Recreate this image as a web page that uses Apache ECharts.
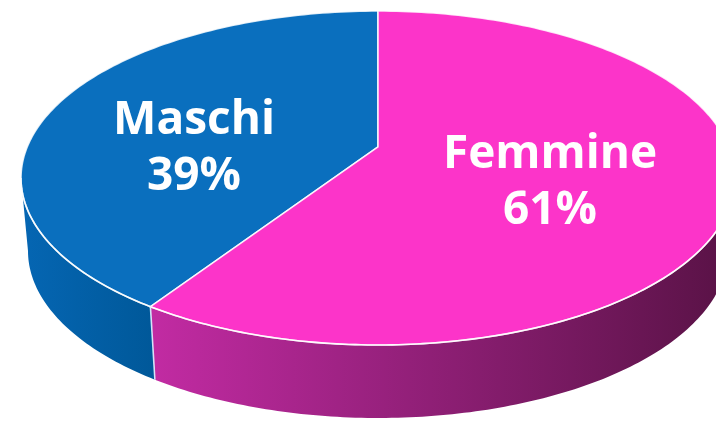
<!DOCTYPE html>
<html>
<head>
<meta charset="utf-8">
<script src="https://cdn.jsdelivr.net/npm/echarts@6/dist/echarts.min.js"></script>
<style>
    html, body { margin: 0; padding: 0; background: #fff; }
    #pie3d { width: 716px; height: 423px; }
</style>
</head>
<body>
<div id="pie3d"></div>
<script>
    // data
    var categories = ['Maschi', 'Femmine'];
    var shares = [39, 61];

    var topColors = ['#0A6FBE', '#FC34C9'];
    var wallColors = [['#0566B3', '#005899'], ['#C22BA3', '#581245']];

    var total = shares.reduce(function (a, b) { return a + b; }, 0);
    // first slice starts at 12 o'clock and runs counterclockwise
    var startAngles = [];
    var acc = 90;
    shares.forEach(function (v) {
        startAngles.push(acc);
        acc += v / total * 360;
    });

    // top face and bottom face ellipses (bottom a bit narrower, far away)
    var topFace = { cx: 378, cy: 178, rx: 357, ry: 167, apex: 0.186 };
    var bottomFace = { cx: 378, cy: 251, rx: 350, ry: 167 };

    function rim (e, deg) {
        var a = deg * Math.PI / 180;
        return [e.cx + e.rx * Math.cos(a), e.cy - e.ry * Math.sin(a)];
    }

    function arc (e, a0, a1) {
        var pts = [];
        var n = Math.max(2, Math.ceil(Math.abs(a1 - a0)));
        for (var i = 0; i <= n; i++) {
            pts.push(rim(e, a0 + (a1 - a0) * i / n));
        }
        return pts;
    }

    function renderItem (params, api) {
        var i = params.dataIndex;
        var a0 = startAngles[i];
        var a1 = a0 + api.value(1) / total * 360;
        var walls = [];
        var seams = [];

        // only the front half of the side is visible
        [[180, 360], [540, 720]].forEach(function (w) {
            var s = Math.max(a0, w[0]);
            var t = Math.min(a1, w[1]);
            if (t <= s) return;
            var upper = arc(topFace, s, t);
            var pts = upper.concat(arc(bottomFace, t, s));
            var xs = pts.map(function (p) { return p[0]; });
            walls.push({
                type: 'polygon',
                shape: { points: pts },
                style: {
                    fill: new echarts.graphic.LinearGradient(
                        Math.min.apply(null, xs), 0, Math.max.apply(null, xs), 0, [
                            { offset: 0, color: wallColors[i][0] },
                            { offset: 1, color: wallColors[i][1] }
                        ], true)
                }
            });
            seams.push({
                type: 'polyline',
                shape: { points: upper },
                style: { fill: null, stroke: 'rgba(255,255,255,0.8)', lineWidth: 1.6 }
            });
            if (s === a0 && s > w[0]) {
                seams.push({
                    type: 'line',
                    shape: {
                        x1: rim(topFace, s)[0], y1: rim(topFace, s)[1],
                        x2: rim(bottomFace, s)[0], y2: rim(bottomFace, s)[1]
                    },
                    style: { stroke: 'rgba(220,240,255,0.9)', lineWidth: 1.6 }
                });
            }
        });

        var apex = [topFace.cx, topFace.cy - topFace.ry * topFace.apex];
        var sector = {
            type: 'polygon',
            shape: { points: [apex].concat(arc(topFace, a0, a1)) },
            style: { fill: topColors[i], stroke: 'rgba(255,255,255,0.85)', lineWidth: 1.6 }
        };

        var mid = (a0 + a1) / 2 * Math.PI / 180;
        var label = {
            type: 'text',
            z2: 10,
            style: {
                text: categories[i] + '\n' + Math.round(api.value(1) / total * 100) + '%',
                x: topFace.cx - 6 + 0.53 * topFace.rx * Math.cos(mid),
                y: topFace.cy - 12 - 0.3 * topFace.ry * Math.sin(mid),
                align: 'center',
                verticalAlign: 'middle',
                fontFamily: 'Open Sans',
                fontWeight: 'bold',
                fontSize: 46,
                lineHeight: 56,
                fill: '#ffffff'
            }
        };

        return {
            type: 'group',
            children: walls.concat([sector], seams, [label])
        };
    }

    var chart = echarts.init(document.getElementById('pie3d'));
    chart.setOption({
        backgroundColor: '#ffffff',
        animation: false,
        series: [
            {
                type: 'custom',
                coordinateSystem: 'none',
                renderItem: renderItem,
                data: categories.map(function (c, i) { return [i, shares[i]]; })
            }
        ]
    });
</script>
</body>
</html>
